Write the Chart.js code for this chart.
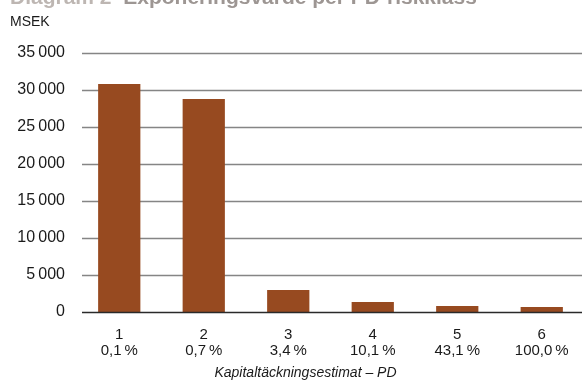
<!DOCTYPE html>
<html>
<head>
<meta charset="utf-8">
<script src="https://cdn.jsdelivr.net/npm/chart.js@4"></script>
<style>
  html, body { margin: 0; padding: 0; background: #fff; overflow: hidden; width: 582px; height: 383px; }
  #wrap { position: relative; width: 582px; height: 383px; overflow: hidden; }
  canvas { position: absolute; left: 0; top: 0; }
  .title { position: absolute; left: 10px; top: -14px; font: bold 21px "Liberation Sans", Arial, sans-serif; line-height: 21px; color: #9d9693; white-space: nowrap; }
  .title .num { color: #bdb6b2; }
  .unit { position: absolute; left: 10px; top: 13px; font: 14px "Liberation Sans", Arial, sans-serif; line-height: 17px; color: #1a1a1a; }
  .xtitle { position: absolute; left: 0; width: 611px; text-align: center; top: 364px; font: italic 14px "Liberation Sans", Arial, sans-serif; line-height: 17px; color: #1a1a1a; white-space: nowrap; }
</style>
</head>
<body>
<div id="wrap">
  <canvas id="c" width="586" height="383"></canvas>
  <div class="title"><span class="num">Diagram 2</span>&nbsp; Exponeringsvärde per PD-riskklass</div>
  <div class="unit">MSEK</div>
  <div class="xtitle">Kapitaltäckningsestimat – PD</div>
</div>
<script>
// Data
const riskClasses = ['1', '2', '3', '4', '5', '6'];
const pdLabels = ['0,1\u2009%', '0,7\u2009%', '3,4\u2009%', '10,1\u2009%', '43,1\u2009%', '100,0\u2009%'];
const exposure = [30800, 28800, 2970, 1350, 810, 680];
const yTicks = [0, 5000, 10000, 15000, 20000, 25000, 30000, 35000];

const categories = riskClasses.map((r, i) => [r, pdLabels[i]]);

function fmt(v) {
  const s = String(Math.round(v));
  return s.length > 3 ? s.slice(0, s.length - 3) + '\u2009' + s.slice(-3) : s;
}

const gridPlugin = {
  id: 'gridPlugin',
  beforeDatasetsDraw(chart) {
    const ctx = chart.ctx, y = chart.scales.y, area = chart.chartArea;
    ctx.save();
    ctx.strokeStyle = '#858585';
    ctx.lineWidth = 1.5;
    yTicks.forEach(v => {
      if (v === 0) return;
      const py = Math.round(y.getPixelForValue(v)) + 0.5;
      ctx.beginPath(); ctx.moveTo(82, py); ctx.lineTo(area.right, py); ctx.stroke();
    });
    ctx.restore();
  },
  afterDatasetsDraw(chart) {
    const ctx = chart.ctx, y = chart.scales.y, area = chart.chartArea;
    ctx.save();
    ctx.strokeStyle = '#2a2a2a';
    ctx.lineWidth = 1.5;
    const py = Math.round(y.getPixelForValue(0)) + 0.5;
    ctx.beginPath(); ctx.moveTo(82, py); ctx.lineTo(area.right, py); ctx.stroke();
    ctx.restore();
  }
};

new Chart(document.getElementById('c'), {
  type: 'bar',
  data: {
    labels: categories,
    datasets: [{
      data: exposure,
      backgroundColor: '#974a20',
      borderWidth: 0,
      categoryPercentage: 1.0,
      barPercentage: 0.5
    }]
  },
  options: {
    responsive: false,
    animation: false,
    devicePixelRatio: 1,
    layout: { padding: { top: 53, right: 2, left: 0, bottom: 0 } },
    plugins: { legend: { display: false }, tooltip: { enabled: false } },
    scales: {
      x: {
        grid: { display: false, drawTicks: false },
        border: { display: false },
        ticks: {
          color: '#1a1a1a',
          font: { family: '"Liberation Sans", Arial, sans-serif', size: 15, lineHeight: 1.05 },
          padding: 15,
          maxRotation: 0, autoSkip: false
        },
        afterFit(s) { s.height = 71; }
      },
      y: {
        min: 0, max: 35000,
        grid: { display: false, drawTicks: false },
        border: { display: false },
        afterBuildTicks(s) { s.ticks = yTicks.map(v => ({ value: v })); },
        ticks: {
          color: '#1a1a1a',
          font: { family: '"Liberation Sans", Arial, sans-serif', size: 16 },
          padding: 12,
          callback: v => fmt(v)
        },
        afterFit(s) { s.width = 77; }
      }
    }
  },
  plugins: [gridPlugin]
});
</script>
</body>
</html>
